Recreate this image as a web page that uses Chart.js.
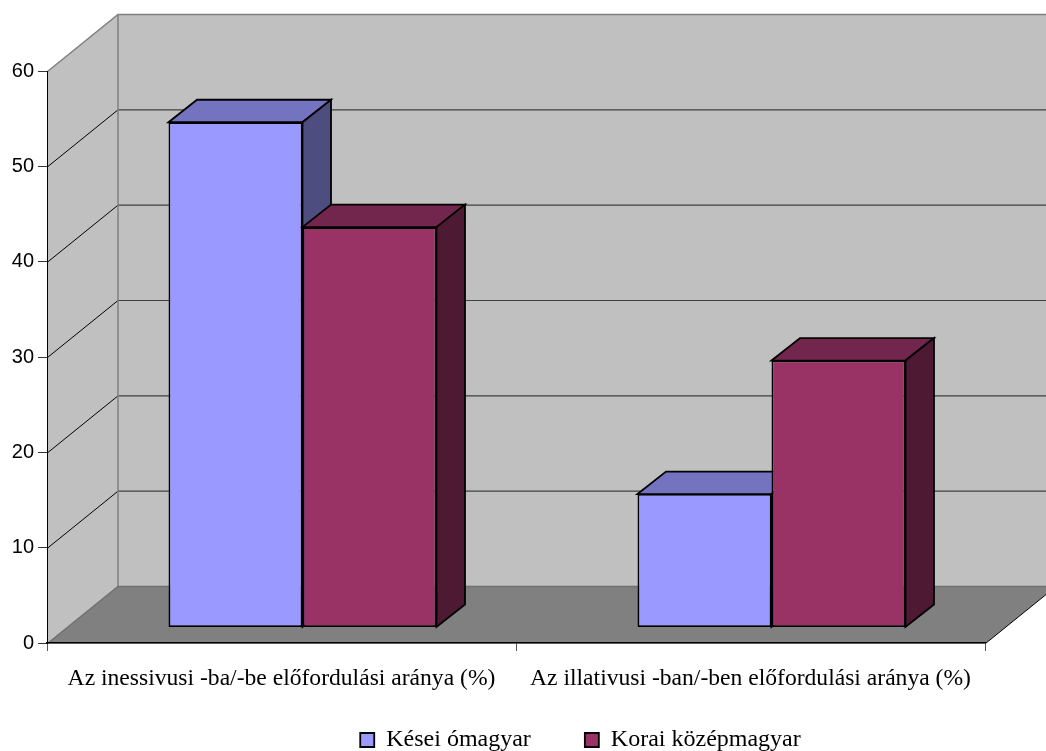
<!DOCTYPE html>
<html>
<head>
<meta charset="utf-8">
<style>html,body{margin:0;padding:0;background:#fff}canvas{display:block}</style>
<script src="https://cdn.jsdelivr.net/npm/chart.js@4"></script>
</head>
<body>
<canvas id="c" width="1046" height="751" style="width:1046px;height:751px"></canvas>
<script>
const categories = ["Az inessivusi -ba/-be előfordulási aránya (%)", "Az illativusi -ban/-ben előfordulási aránya (%)"];
const seriesNames = ["Kései ómagyar", "Korai középmagyar"];
const keseiOmagyar = [53, 14];
const koraiKozepmagyar = [42, 28];
const frontColors = ["#9999FF", "#993366"];
const topColors = ["#7373BF", "#73264D"];
const sideColors = ["#4D4D80", "#4D1933"];
const yMax = 60, yStep = 10;
const wallDX = 70.5, wallDY = 57;
const barShiftX = 21, barShiftY = -15.5;
const barDepthX = 28.5, barDepthY = 22.5;

function poly(ctx, pts, fill, stroke, lw) {
  ctx.beginPath();
  pts.forEach((p, i) => i ? ctx.lineTo(p[0], p[1]) : ctx.moveTo(p[0], p[1]));
  ctx.closePath();
  if (fill) { ctx.fillStyle = fill; ctx.fill(); }
  if (stroke) { ctx.strokeStyle = stroke; ctx.lineWidth = lw; ctx.lineJoin = "miter"; ctx.stroke(); }
}
function line(ctx, pts, color, lw) {
  ctx.beginPath();
  pts.forEach((p, i) => i ? ctx.lineTo(p[0], p[1]) : ctx.moveTo(p[0], p[1]));
  ctx.strokeStyle = color; ctx.lineWidth = lw; ctx.stroke();
}

const walls = {
  id: "walls",
  afterLayout(chart) {
    const lg = chart.legend, shift = 88;
    lg.left += shift;
    lg.right += shift;
    lg.top = 674;
  },
  beforeDraw(chart) {
    const ctx = chart.ctx, a = chart.chartArea, y = chart.scales.y;
    const L = a.left + 0.5, R = a.right + 0.5;
    const y0 = y.getPixelForValue(0) + 0.5, yT = y.getPixelForValue(yMax) + 0.5;
    ctx.save();
    poly(ctx, [[L + wallDX, yT - wallDY], [R + wallDX, yT - wallDY], [R + wallDX, y0 - wallDY], [L + wallDX, y0 - wallDY]], "#C0C0C0");
    poly(ctx, [[L, yT], [L + wallDX, yT - wallDY], [L + wallDX, y0 - wallDY], [L, y0]], "#C0C0C0");
    poly(ctx, [[L, y0], [L + wallDX, y0 - wallDY], [R + wallDX, y0 - wallDY], [R, y0]], "#808080");
    for (let v = yStep; v < yMax; v += yStep) {
      const p = y.getPixelForValue(v) + 0.5;
      line(ctx, [[L, p], [L + wallDX, p - wallDY]], "#000", 1);
      line(ctx, [[L + wallDX, p - wallDY], [R + wallDX, p - wallDY]], "#404040", 1.2);
    }
    line(ctx, [[L, yT], [L + wallDX, yT - wallDY], [R + wallDX, yT - wallDY]], "#808080", 1.5);
    line(ctx, [[L + wallDX, yT - wallDY], [L + wallDX, y0 - wallDY]], "#808080", 1.5);
    line(ctx, [[L, y0], [L + wallDX, y0 - wallDY], [R + wallDX, y0 - wallDY]], "#707070", 1.5);
    line(ctx, [[R, y0], [R + wallDX, y0 - wallDY]], "#000", 1);
    ctx.restore();
  },
  // datasets are painted left to right so that the right bar overlaps the left bar's side face
  beforeDatasetsDraw(chart) {
    const ctx = chart.ctx;
    ctx.save();
    ctx.translate(barShiftX, barShiftY);
    [0, 1].forEach(i => {
      chart.getDatasetMeta(i).data.forEach(bar => {
        const b = bar.getProps(["x", "y", "base", "width"], true);
        const l = b.x - b.width / 2, r = b.x + b.width / 2;
        poly(ctx, [[l, b.y], [l + barDepthX, b.y - barDepthY], [r + barDepthX, b.y - barDepthY], [r, b.y]], topColors[i], "#000", 1.8);
        poly(ctx, [[r, b.y], [r + barDepthX, b.y - barDepthY], [r + barDepthX, b.base - barDepthY], [r, b.base]], sideColors[i], "#000", 1.8);
        bar.draw(ctx);
      });
    });
    ctx.restore();
  },
  beforeDatasetDraw() { return false; }
};

new Chart(document.getElementById("c"), {
  type: "bar",
  data: {
    labels: categories,
    datasets: [
      { label: seriesNames[0], data: keseiOmagyar, backgroundColor: frontColors[0], borderColor: "#000", borderWidth: 1.8, borderSkipped: false },
      { label: seriesNames[1], data: koraiKozepmagyar, backgroundColor: frontColors[1], borderColor: "#000", borderWidth: 1.8, borderSkipped: false }
    ]
  },
  options: {
    responsive: false,
    animation: false,
    layout: { padding: { left: 0, right: 61, top: 71, bottom: -40 } },
    datasets: { bar: { categoryPercentage: 0.5714, barPercentage: 1 } },
    scales: {
      x: {
        afterFit(axis) { axis.height = 60; },
        grid: { drawOnChartArea: false, drawTicks: true, tickLength: 8, color: "#555" },
        border: { color: "#000", width: 1.5 },
        ticks: { color: "#000", font: { family: "'Liberation Serif'", size: 23.6 }, padding: 14, maxRotation: 0, autoSkip: false }
      },
      y: {
        min: 0, max: yMax,
        afterFit(axis) { axis.width = 47; },
        grid: { drawOnChartArea: false, drawTicks: true, tickLength: 9, color: "#333" },
        border: { color: "#000", width: 1 },
        ticks: { stepSize: yStep, color: "#000", font: { family: "'Liberation Sans'", size: 20 }, padding: 4 }
      }
    },
    plugins: {
      tooltip: { enabled: false },
      legend: {
        position: "bottom",
        labels: { boxWidth: 14, boxHeight: 14, padding: 54, color: "#000", font: { family: "'Liberation Serif'", size: 24 } }
      }
    }
  },
  plugins: [walls]
});
</script>
</body>
</html>
